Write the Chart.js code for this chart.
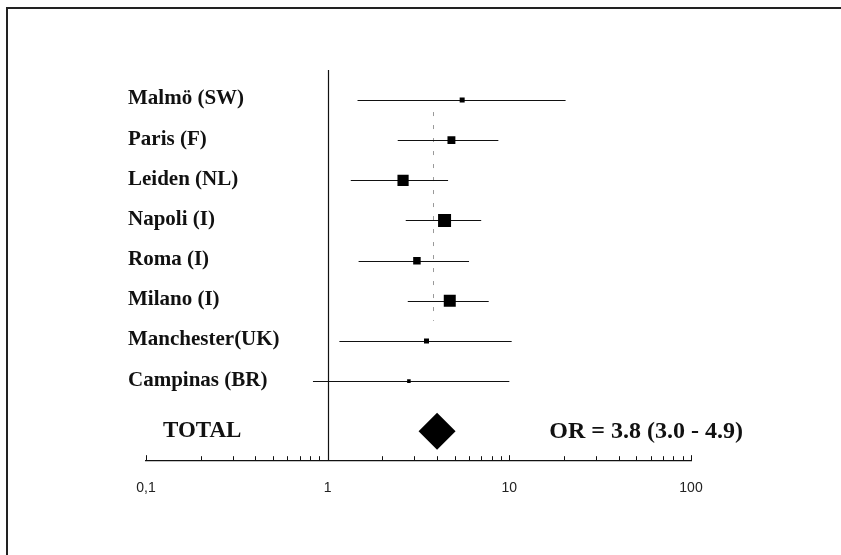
<!DOCTYPE html>
<html>
<head>
<meta charset="utf-8">
<script src="https://cdn.jsdelivr.net/npm/chart.js@4.4.1/dist/chart.umd.min.js"></script>
<style>
  html, body { margin: 0; padding: 0; background: #fff; }
  #wrap { position: relative; width: 841px; height: 555px; overflow: hidden; }
  #frame { position: absolute; left: 6px; top: 7px; right: -4px; bottom: -4px;
           border-top: 2px solid #222; border-left: 2px solid #222; }
  canvas { position: absolute; left: 0; top: 0; }
</style>
</head>
<body>
<div id="wrap"><div id="frame"></div><canvas id="forest" width="841" height="555"></canvas></div>
<script>
// studies, top to bottom
const studies = ['Malmö (SW)', 'Paris (F)', 'Leiden (NL)', 'Napoli (I)', 'Roma (I)',
                 'Milano (I)', 'Manchester(UK)', 'Campinas (BR)'];
const oddsRatio = [5.5, 4.8, 2.6, 4.4, 3.1, 4.7, 3.5, 2.8];
const ciLow     = [1.46, 2.43, 1.34, 2.69, 1.48, 2.76, 1.16, 0.83];
const ciHigh    = [20.4, 8.7, 4.6, 7.0, 6.0, 7.7, 10.3, 10.0];
const weights   = [4, 10, 20, 27, 9, 23, 4, 2];   // relative weight (%), drives square size

// pooled estimate
const pooledLabel = 'TOTAL';
const pooledOR = 3.8;
const pooledLow = 3.0;
const pooledHigh = 4.9;
const diamondOR = 4.0;   // where the diamond sits in the figure
const totalRow = 8.25;

// x axis
const tickValues = [0.1, 1, 10, 100];
const tickLabels = ['0,1', '1', '10', '100'];

const serif = '"Liberation Serif", "Times New Roman", serif';

const forestPlugin = {
  id: 'forest',
  beforeDatasetsDraw(chart) {
    const { ctx, chartArea, scales: { x, y } } = chart;
    ctx.save();
    // line of no effect
    const x1 = Math.round(x.getPixelForValue(1)) + 0.5;
    ctx.strokeStyle = '#111';
    ctx.lineWidth = 1.2;
    ctx.beginPath();
    ctx.moveTo(x1, chartArea.top);
    ctx.lineTo(x1, chartArea.bottom);
    ctx.stroke();

    // pooled OR, dashed (very faint in the original)
    const xp = Math.round(x.getPixelForValue(pooledOR)) + 0.5;
    ctx.setLineDash([4, 9]);
    ctx.strokeStyle = '#999';
    ctx.lineWidth = 1;
    ctx.beginPath();
    ctx.moveTo(xp, y.getPixelForValue(0.3));
    ctx.lineTo(xp, y.getPixelForValue(5.5));
    ctx.stroke();
    ctx.setLineDash([]);

    // confidence intervals
    ctx.strokeStyle = '#111';
    ctx.lineWidth = 1.2;
    studies.forEach((s, i) => {
      const yy = Math.round(y.getPixelForValue(i)) + 0.5;
      ctx.beginPath();
      ctx.moveTo(x.getPixelForValue(ciLow[i]), yy);
      ctx.lineTo(x.getPixelForValue(ciHigh[i]), yy);
      ctx.stroke();
    });

    // log ticks pointing up from the axis
    const yb = chartArea.bottom;
    ctx.lineWidth = 1;
    for (let d = -1; d <= 1; d++) {
      for (let k = 1; k <= 9; k++) {
        const tx = Math.round(x.getPixelForValue(k * Math.pow(10, d))) + 0.5;
        ctx.beginPath();
        ctx.moveTo(tx, yb);
        ctx.lineTo(tx, yb - (k === 1 ? 5 : 4));
        ctx.stroke();
      }
    }
    const t100 = Math.round(x.getPixelForValue(100)) + 0.5;
    ctx.beginPath();
    ctx.moveTo(t100, yb);
    ctx.lineTo(t100, yb - 5);
    ctx.stroke();
    ctx.restore();
  },
  afterDatasetsDraw(chart) {
    const { ctx, chartArea, scales: { y } } = chart;
    ctx.save();
    ctx.fillStyle = '#111';
    ctx.textBaseline = 'middle';
    ctx.textAlign = 'left';
    ctx.font = 'bold 21px ' + serif;
    studies.forEach((s, i) => {
      ctx.fillText(s, chartArea.left - 18, y.getPixelForValue(i) - 1);
    });
    const yt = y.getPixelForValue(totalRow);
    ctx.font = 'bold 23px ' + serif;
    ctx.fillText(pooledLabel, chartArea.left + 17, yt);
    ctx.font = 'bold 24px ' + serif;
    ctx.textAlign = 'right';
    ctx.fillText('OR = ' + pooledOR.toFixed(1) + ' (' + pooledLow.toFixed(1) + ' - ' + pooledHigh.toFixed(1) + ')',
                 chartArea.right + 52, yt);
    ctx.restore();
  }
};

new Chart(document.getElementById('forest').getContext('2d'), {
  type: 'scatter',
  data: {
    datasets: [
      {
        data: studies.map((s, i) => ({ x: oddsRatio[i], y: i })),
        pointStyle: 'rect',
        pointRadius: weights.map(w => 2.5 * Math.sqrt(w) / Math.SQRT2),
        backgroundColor: '#000',
        borderWidth: 0
      },
      {
        data: [{ x: diamondOR, y: totalRow }],
        pointStyle: 'rectRot',
        pointRadius: 18.5,
        backgroundColor: '#000',
        borderWidth: 0
      }
    ]
  },
  options: {
    responsive: false,
    animation: false,
    events: [],
    layout: { padding: { left: 146, right: 150, top: 70, bottom: 38 } },
    plugins: { legend: { display: false }, tooltip: { enabled: false } },
    scales: {
      x: {
        type: 'logarithmic',
        min: 0.1,
        max: 100,
        afterBuildTicks: axis => { axis.ticks = tickValues.map(v => ({ value: v })); },
        ticks: {
          callback: (v, i) => tickLabels[i],
          autoSkip: false,
          maxRotation: 0,
          minRotation: 0,
          padding: 20,
          color: '#222',
          font: { family: 'Liberation Sans', size: 14 }
        },
        grid: { display: true, drawOnChartArea: false, drawTicks: false },
        border: { display: true, color: '#111', width: 1.2 }
      },
      y: { type: 'linear', display: false, reverse: true, min: -0.747, max: 8.969 }
    }
  },
  plugins: [forestPlugin]
});
</script>
</body>
</html>
